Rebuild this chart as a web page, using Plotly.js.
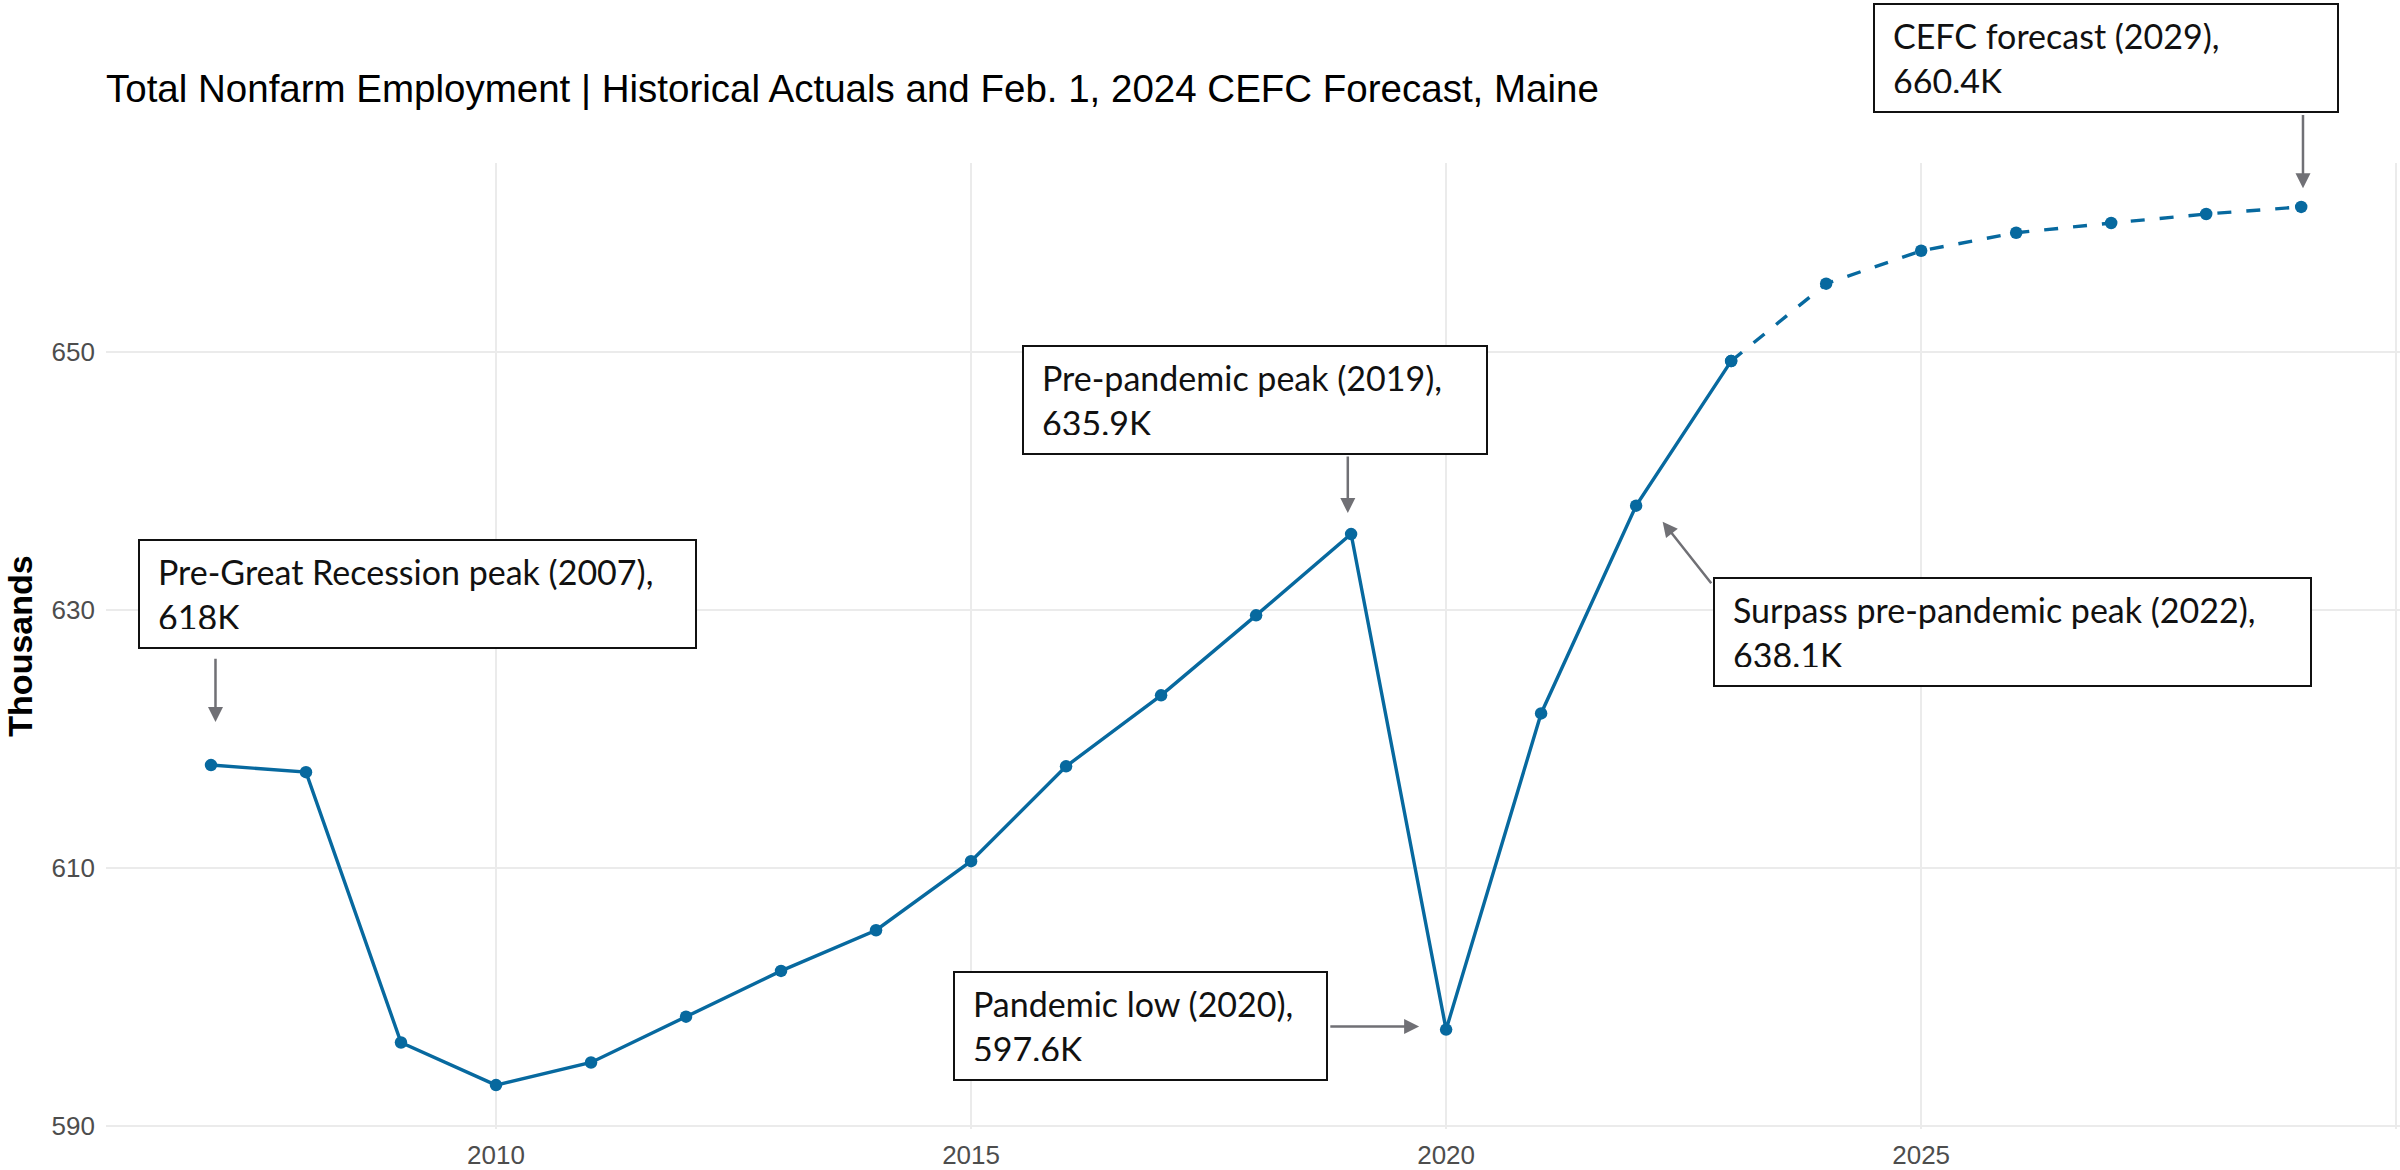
<!DOCTYPE html>
<html>
<head>
<meta charset="utf-8">
<script src="https://cdn.plot.ly/plotly-3.0.1.min.js"></script>
<style>
  html, body { margin: 0; padding: 0; background: #ffffff; }
  #chart { width: 2400px; height: 1170px; }
</style>
</head>
<body>
<div id="chart"></div>
<script>
// ---- data (thousands of jobs) ----
const histYears  = [2007, 2008, 2009, 2010, 2011, 2012, 2013, 2014, 2015, 2016, 2017, 2018, 2019, 2020, 2021, 2022, 2023];
const histValues = [618.0, 617.45, 596.5, 593.2, 594.95, 598.5, 602.05, 605.2, 610.55, 617.9, 623.4, 629.6, 635.9, 597.5, 622.0, 638.1, 649.3];
const fcstYears  = [2023, 2024, 2025, 2026, 2027, 2028, 2029];
const fcstValues = [649.3, 655.3, 657.85, 659.25, 660.0, 660.7, 661.25];

const yTickVals = [590, 610, 630, 650];
const xTickVals = [2010, 2015, 2020, 2025, 2030];
const xTickText = ['2010', '2015', '2020', '2025', ''];

const titleText = 'Total Nonfarm Employment | Historical Actuals and Feb. 1, 2024 CEFC Forecast, Maine';
const yTitleText = 'Thousands';

const calloutYears = [2007, 2019, 2020, 2022, 2029];
const calloutTexts = [
  'Pre-Great Recession peak (2007),<br>618K',
  'Pre-pandemic peak (2019),<br>635.9K',
  'Pandemic low (2020),<br>597.6K',
  'Surpass pre-pandemic peak (2022),<br>638.1K',
  'CEFC forecast (2029),<br>660.4K'
];

// ---- styling / placement (pixels relative to each referenced point) ----
const lineColor = '#07699f';
const arrowColor = '#707075';
const boxStyle = [
  {w: 519, dx: -73,    dy: 226.4},
  {w: 426, dx: -329.3, dy: 189},
  {w: 335, dx: -492.9, dy: 58.3},
  {w: 559, dx: 76.6,   dy: -71.7},
  {w: 426, dx: -428.2, dy: 203.6}
];
const arrowStyle = [
  {sx: 4.5,  sy: 43,   ax: 0,     ay: -64.8},
  {sx: -3.3, sy: 21,   ax: 0,     ay: -58},
  {sx: -27,  sy: 3,    ax: -90.3, ay: 0},
  {sx: 26.5, sy: -16,  ax: 49.8,  ay: 63},
  {sx: 1.8,  sy: 18.7, ax: 0,     ay: -74.6}
];

const allYears = histYears.concat(fcstYears);
const allValues = histValues.concat(fcstValues);
function valueAt(year) { return allValues[allYears.indexOf(year)]; }

const yMin = Math.min(...allValues), yMax = Math.max(...allValues);
const yPad = (yMax - yMin) * 0.05;

const traces = [
  {
    x: histYears, y: histValues, type: 'scatter', mode: 'lines+markers',
    line: {color: lineColor, width: 3.4},
    marker: {color: lineColor, size: 12.5},
    hoverinfo: 'x+y', showlegend: false
  },
  {
    x: fcstYears, y: fcstValues, type: 'scatter', mode: 'lines+markers',
    line: {color: lineColor, width: 3.4, dash: '14px,15px'},
    marker: {color: lineColor, size: 12.5},
    hoverinfo: 'x+y', showlegend: false
  }
];

const annotations = [];
calloutYears.forEach((yr, i) => {
  const v = valueAt(yr);
  annotations.push({
    x: yr, y: v, xref: 'x', yref: 'y',
    text: calloutTexts[i], showarrow: false,
    xanchor: 'left', yanchor: 'top',
    xshift: boxStyle[i].dx, yshift: boxStyle[i].dy,
    align: 'left', valign: 'middle',
    width: boxStyle[i].w, height: 70,
    bordercolor: '#111111', borderwidth: 2, borderpad: 18,
    bgcolor: '#ffffff',
    font: {family: 'Lato, "Open Sans", sans-serif', size: 34, color: '#111111'}
  });
  annotations.push({
    x: yr, y: v, xref: 'x', yref: 'y',
    text: '', showarrow: true,
    xshift: arrowStyle[i].sx, yshift: arrowStyle[i].sy,
    ax: arrowStyle[i].ax, ay: arrowStyle[i].ay,
    arrowhead: 2, arrowsize: 1.2, arrowwidth: 2.5, arrowcolor: arrowColor,
    standoff: 0
  });
});

const layout = {
  width: 2400, height: 1170,
  paper_bgcolor: '#ffffff', plot_bgcolor: '#ffffff',
  margin: {l: 106, r: 0, t: 163, b: 41, pad: 0},
  font: {family: '"Liberation Sans", Arial, sans-serif'},
  title: {
    text: titleText,
    font: {family: '"Liberation Sans", Arial, sans-serif', size: 38.5, color: '#000000'},
    xref: 'paper', x: 0, xanchor: 'left',
    yref: 'container', y: 0.9244, yanchor: 'middle'
  },
  xaxis: {
    range: [2005.895, 2030.04],
    tickvals: xTickVals, ticktext: xTickText,
    showgrid: true, gridcolor: '#ebebeb', gridwidth: 2,
    zeroline: false, showline: false, ticks: '',
    ticklabelstandoff: 8,
    tickfont: {family: '"Liberation Sans", Arial, sans-serif', size: 26, color: '#4d4d4d'}
  },
  yaxis: {
    range: [yMin - yPad, yMax + yPad],
    tickvals: yTickVals,
    showgrid: true, gridcolor: '#ebebeb', gridwidth: 2,
    zeroline: false, showline: false, ticks: '',
    ticklabelstandoff: 10,
    tickfont: {family: '"Liberation Sans", Arial, sans-serif', size: 26, color: '#4d4d4d'},
    title: {
      text: '<b>' + yTitleText + '</b>', standoff: 8,
      font: {family: '"Liberation Sans", Arial, sans-serif', size: 34, color: '#000000'}
    }
  },
  annotations: annotations,
  hovermode: false
};

Plotly.newPlot('chart', traces, layout, {displayModeBar: false, staticPlot: true});
</script>
</body>
</html>
